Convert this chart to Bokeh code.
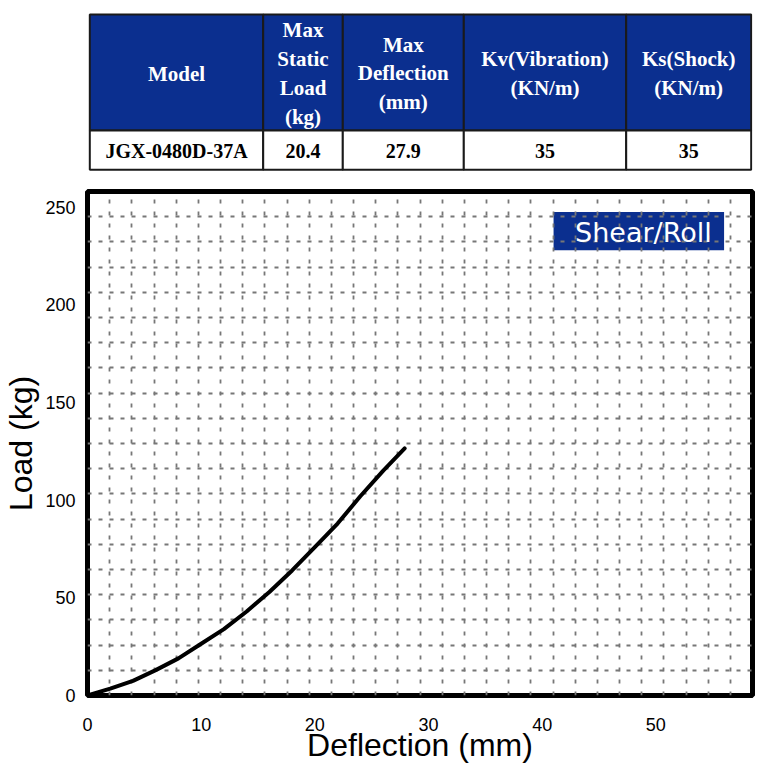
from bokeh.core.properties import value
from bokeh.embed import file_html
from bokeh.layouts import column
from bokeh.models import BoxAnnotation, FixedTicker, Label, Range1d
from bokeh.plotting import figure
from bokeh.resources import INLINE

# spec table
headers = ["Model", "Max\nStatic\nLoad\n(kg)", "Max\nDeflection\n(mm)",
           "Kv(Vibration)\n(KN/m)", "Ks(Shock)\n(KN/m)"]
row = ["JGX-0480D-37A", "20.4", "27.9", "35", "35"]

# load / deflection curve
deflection = [0, 2, 4, 6, 8, 10, 12, 14, 16, 18, 20, 22, 24, 26, 27.9]
load = [0, 3.5, 7.5, 13, 19, 26.5, 34, 43, 53, 64, 76, 88, 102, 115, 126.5]

x_ticks = [0, 10, 20, 30, 40, 50]
y_ticks = [0, 50, 100, 150, 200, 250]

BLUE = "#0b2f8f"
X_MAX, Y_MAX = 58.5, 258
W = 768
LEFT, RIGHT = 87, 16

# ---- table (drawn in pixel units) ----
col_edges = [89.3, 262.7, 342.3, 463.3, 625.7, 750.7]
top, mid, bottom = 14, 130, 169.3
TH = 178

t = figure(width=W, height=TH, x_range=Range1d(LEFT, W - RIGHT), y_range=Range1d(TH, 0),
           output_backend="svg", toolbar_location=None,
           min_border_left=LEFT, min_border_right=RIGHT, min_border_top=0, min_border_bottom=0)
t.axis.visible = False
t.grid.visible = False
t.outline_line_color = None

lefts = col_edges[:-1]
rights = col_edges[1:]
centers = [(a + b) / 2 for a, b in zip(lefts, rights)]

t.quad(left=lefts, right=rights, top=[top] * 5, bottom=[mid] * 5,
       fill_color=BLUE, line_color="#1a1a1a", line_width=2)
t.quad(left=lefts, right=rights, top=[mid] * 5, bottom=[bottom] * 5,
       fill_color="white", line_color="#1a1a1a", line_width=2)

t.text(x=centers, y=[(top + mid) / 2 + 1] * 5, text=headers,
       text_font=value("Liberation Serif"), text_font_style="bold",
       text_font_size="21px", text_color="white", text_align="center",
       text_baseline="middle", text_line_height=1.2)
t.text(x=centers, y=[(mid + bottom) / 2 + 1] * 5, text=row,
       text_font=value("Liberation Serif"), text_font_style="bold",
       text_font_size="20px", text_color="black", text_align="center",
       text_baseline="middle")

# ---- chart ----
p = figure(width=W, height=588, x_range=Range1d(0, X_MAX), y_range=Range1d(0, Y_MAX),
           output_backend="svg", toolbar_location=None,
           min_border_left=LEFT, min_border_right=RIGHT, min_border_top=13, min_border_bottom=71)
p.outline_line_color = "black"
p.outline_line_width = 5

for ax, ticks in ((p.xaxis, x_ticks), (p.yaxis, y_ticks)):
    ax.ticker = FixedTicker(ticks=ticks)
    ax.major_tick_line_color = None
    ax.minor_tick_line_color = None
    ax.axis_line_color = None
    ax.major_label_text_font = "Liberation Sans"
    ax.major_label_text_font_size = "18px"
    ax.major_label_text_color = "black"
    ax.axis_label_text_font = "Liberation Sans"
    ax.axis_label_text_font_size = "32px"
    ax.axis_label_text_font_style = "normal"
    ax.axis_label_text_color = "black"
p.xaxis.axis_label = "Deflection (mm)"
p.yaxis.axis_label = "Load (kg)"
p.yaxis.major_label_standoff = 6
p.xaxis.major_label_standoff = 16
p.yaxis.axis_label_standoff = 3
p.xaxis.axis_label_standoff = -7

p.xgrid.ticker = FixedTicker(ticks=[i * X_MAX / 30 for i in range(1, 30)])
p.ygrid.ticker = FixedTicker(ticks=[j * Y_MAX / 20 for j in range(1, 20)])
p.xgrid.grid_line_dash = "4 8"
p.ygrid.grid_line_dash = "4 7"
for g in (p.xgrid, p.ygrid):
    g.grid_line_color = "#777777"
    g.grid_line_width = 1.8

box = BoxAnnotation(left=41.0, right=56.0, bottom=227.9, top=247.5,
                    fill_color=BLUE, fill_alpha=1, line_color=None, level="image")
p.add_layout(box)
p.add_layout(Label(x=48.9, y=237.2, text="Shear/Roll", text_font="DejaVu Sans",
                   text_font_size="27px", text_color="white",
                   text_align="center", text_baseline="middle"))

p.line(deflection, load, line_color="black", line_width=4,
       line_cap="round", line_join="round")

layout = column(t, p)
open("out.html", "w").write(file_html(layout, INLINE))
